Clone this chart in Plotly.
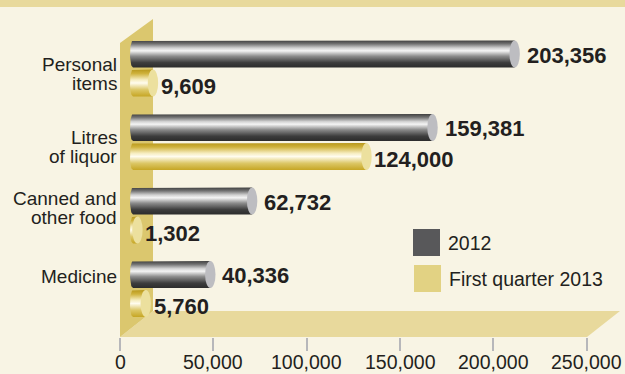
import numpy as np
import plotly.graph_objects as go

# ---- data -------------------------------------------------------------
category_lines = [["Personal", "items"], ["Litres", "of liquor"],
                  ["Canned and", "other food"], ["Medicine"]]
series_names = ["2012", "First quarter 2013"]
values_2012 = [203356, 159381, 62732, 40336]
values_2013 = [9609, 124000, 1302, 5760]
tick_values = [0, 50000, 100000, 150000, 200000, 250000]

# ---- layout constants (pixels) ---------------------------------------
W, H = 625, 374
PLOT_BOTTOM = 337          # y axis runs in screen rows 0..337
ZERO_PX, MAX_PX, AX_MAX = 120, 586.7, 250000
U = AX_MAX / (MAX_PX - ZERO_PX)   # axis units per pixel


def X(px):
    return (px - ZERO_PX) * U


BAR_BASE_PX = 135          # bars sit half way into the 3-D depth
BAR_START_PX = 133
HALF_H = 13.5
CAP_RX = 5.2
GROUP_CENTERS = [54, 127.5, 201, 274.5]
SECOND_OFFSET = 29

BG = "#f8f4e4"
FLOOR = "#e8d99c"
WALL = "#dbc76e"
TEXT = "#231f20"
GRAY_CAP = "#bdbdc1"
GOLD_CAP = "#ece09e"
GRAY_KEY = "#58585a"
GOLD_KEY = "#e2d283"

gray_scale = [[0.0, "#2c2c2c"], [0.18, "#3d3d3d"], [0.42, "#8c8c8c"],
              [0.62, "#f4f4f4"], [0.72, "#d2d2d2"], [0.88, "#707070"],
              [1.0, "#404040"]]
gold_scale = [[0.0, "#c6a624"], [0.25, "#dcc766"], [0.5, "#fffcee"],
              [0.62, "#f6edc0"], [0.85, "#cfb23c"], [1.0, "#b8981c"]]

fig = go.Figure()
shapes = []
annotations = []

# 3-D floor and back wall
shapes.append(dict(type="path", xref="x", yref="y", layer="below",
                   path=f"M {X(120)},{PLOT_BOTTOM} L {X(587)},{PLOT_BOTTOM} "
                        f"L {X(620)},311 L {X(153)},311 Z",
                   fillcolor=FLOOR, line=dict(width=0)))
shapes.append(dict(type="path", xref="x", yref="y", layer="below",
                   path=f"M {X(120)},43 L {X(153)},19 L {X(153)},311 "
                        f"L {X(120)},{PLOT_BOTTOM} Z",
                   fillcolor=WALL, line=dict(width=0)))
# band along the top edge
shapes.append(dict(type="rect", xref="paper", yref="y", layer="below",
                   x0=0, x1=1, y0=-1, y1=7, fillcolor=FLOOR, line=dict(width=0)))


def add_bar(value, yc, scale, cap_color):
    end = X(BAR_BASE_PX) + value
    t = np.linspace(np.pi / 2, 3 * np.pi / 2, 25)
    ex = X(BAR_START_PX) + 3 * U * np.cos(t)
    ey = yc - HALF_H * np.sin(t)
    xs = [end] + list(ex) + [end, end]
    ys = [yc - HALF_H] + list(ey) + [yc + HALF_H, yc - HALF_H]
    fig.add_trace(go.Scatter(x=xs, y=ys, mode="lines", fill="toself",
                             line=dict(width=0),
                             fillgradient=dict(type="vertical", colorscale=scale),
                             hoverinfo="skip", showlegend=False))
    shapes.append(dict(type="circle", xref="x", yref="y",
                       x0=end - CAP_RX * U, x1=end + CAP_RX * U,
                       y0=yc - HALF_H, y1=yc + HALF_H,
                       fillcolor=cap_color, line=dict(width=0)))
    return end


for i, yc in enumerate(GROUP_CENTERS):
    e1 = add_bar(values_2012[i], yc, gray_scale, GRAY_CAP)
    annotations.append(dict(x=e1, y=yc + 1, xref="x", yref="y",
                            xanchor="left", yanchor="middle", xshift=11,
                            text=f"{values_2012[i]:,}", showarrow=False,
                            borderpad=0,
                            font=dict(family="Liberation Sans", size=22,
                                      color=TEXT, weight="bold")))
    y2 = yc + SECOND_OFFSET
    e2 = add_bar(values_2013[i], y2, gold_scale, GOLD_CAP)
    annotations.append(dict(x=e2, y=y2 + 3, xref="x", yref="y",
                            xanchor="left", yanchor="middle", xshift=7,
                            text=f"{values_2013[i]:,}", showarrow=False,
                            borderpad=0,
                            font=dict(family="Liberation Sans", size=22,
                                      color=TEXT, weight="bold")))

# category labels, one annotation per line
label_rows = [[64.1, 83.4], [137.1, 156.4], [198.4, 217.7], [276.7]]
for lines, rows in zip(category_lines, label_rows):
    for line, row in zip(lines, rows):
        annotations.append(dict(x=X(117.5), y=row, xref="x", yref="y",
                                xanchor="right", yanchor="middle",
                                text=line, showarrow=False, borderpad=0,
                                font=dict(family="Liberation Sans", size=19,
                                          color=TEXT)))

# value-axis labels sit flush with the bottom edge of the page
label_paper_y = (PLOT_BOTTOM - (H - 0.5)) / PLOT_BOTTOM
for v in tick_values:
    annotations.append(dict(x=v, y=label_paper_y, xref="x", yref="paper",
                            xanchor="center", yanchor="bottom",
                            text=f"{v:,}", showarrow=False, borderpad=0,
                            font=dict(family="Liberation Sans", size=19.5,
                                      color=TEXT)))

# key
for name, color, (kx, ky) in zip(series_names, [GRAY_KEY, GOLD_KEY],
                                 [(413, 229), (414, 265)]):
    shapes.append(dict(type="rect", xref="x", yref="y",
                       x0=X(kx), x1=X(kx + 27), y0=ky, y1=ky + 27,
                       fillcolor=color, line=dict(width=0)))
    annotations.append(dict(x=X(kx + 34), y=ky + 13.5, xref="x", yref="y",
                            xanchor="left", yanchor="middle", text=name,
                            showarrow=False, borderpad=0,
                            font=dict(family="Liberation Sans", size=19.5,
                                      color=TEXT)))

fig.update_layout(
    width=W, height=H,
    margin=dict(l=0, r=0, t=0, b=H - PLOT_BOTTOM, autoexpand=False),
    paper_bgcolor=BG, plot_bgcolor=BG,
    shapes=shapes, annotations=annotations,
    showlegend=False,
    xaxis=dict(range=[X(0), X(W)], tickvals=tick_values,
               showticklabels=False,
               ticks="outside", ticklen=13, tickwidth=1.5,
               tickcolor="#b7b7ba", showgrid=False, zeroline=False,
               showline=False, fixedrange=True, automargin=False),
    yaxis=dict(range=[PLOT_BOTTOM, 0], visible=False, fixedrange=True,
               automargin=False),
)

fig.write_html("out.html")
